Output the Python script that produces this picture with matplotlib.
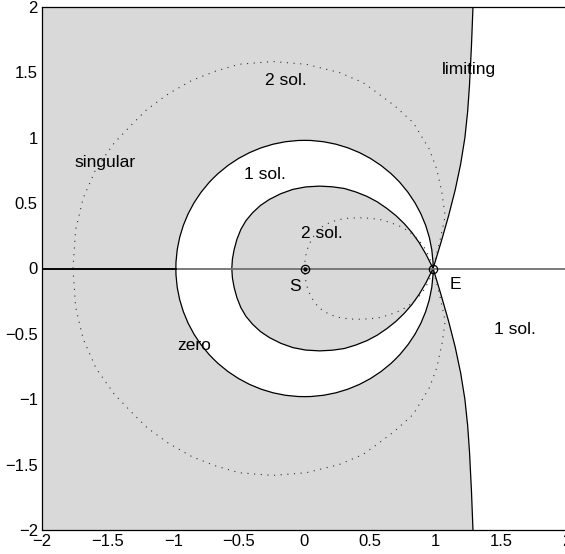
import numpy as np
import matplotlib.pyplot as plt
from matplotlib.patches import Circle

plt.rcParams['font.family'] = ['Liberation Sans', 'DejaVu Sans']

# Curvas (mitad superior, simetricas respecto al eje x)
# Curva interior (frontera 1 sol. / 2 sol.)
egg_x = [-0.554, -0.549, -0.536, -0.515, -0.485, -0.446, -0.396, -0.336, -0.268, -0.181, -0.089,
         0.010, 0.115, 0.211, 0.304, 0.392, 0.475, 0.554, 0.627, 0.696, 0.760, 0.818, 0.872, 0.926, 0.98]
egg_y = [0.0, 0.074, 0.145, 0.223, 0.299, 0.366, 0.426, 0.482, 0.528, 0.572, 0.605,
         0.624, 0.630, 0.625, 0.612, 0.585, 0.552, 0.510, 0.460, 0.405, 0.343, 0.276, 0.200, 0.108, 0.0]

# Curva punteada pequena (de S a E)
sd_x = [0.0, 0.004, 0.014, 0.033, 0.060, 0.095, 0.140, 0.200, 0.268, 0.340, 0.421,
        0.500, 0.574, 0.650, 0.727, 0.785, 0.835, 0.880, 0.920, 0.952, 0.98]
sd_y = [0.0, 0.060, 0.121, 0.180, 0.232, 0.282, 0.323, 0.355, 0.375, 0.386, 0.388,
        0.384, 0.375, 0.353, 0.323, 0.290, 0.252, 0.205, 0.150, 0.085, 0.0]

# Curva punteada grande
ld_x = [-1.764, -1.744, -1.686, -1.588, -1.450, -1.314, -1.200, -1.034, -0.856, -0.676, -0.498,
        -0.243, 0.013, 0.268, 0.446, 0.536, 0.686, 0.829, 0.952, 1.008, 1.047, 1.072, 1.034, 0.996, 0.98]
ld_y = [0.0, 0.294, 0.539, 0.764, 0.960, 1.103, 1.217, 1.338, 1.440, 1.510, 1.562,
        1.583, 1.562, 1.498, 1.422, 1.357, 1.245, 1.115, 0.911, 0.758, 0.579, 0.401, 0.222, 0.069, 0.0]

# Curva limite (de E hacia arriba)
lim_x = [0.98, 1.040, 1.097, 1.148, 1.190, 1.222, 1.243, 1.257, 1.272, 1.284]
lim_y = [0.0, 0.2, 0.4, 0.6, 0.8, 1.0, 1.2, 1.4, 1.7, 2.01]

r_circ = 0.98
S = (0.0, 0.0)
E = (0.98, 0.0)

labels = [('singular', -1.52, 0.81), ('2 sol.', -0.14, 1.44), ('limiting', 1.25, 1.52),
          ('1 sol.', -0.30, 0.72), ('2 sol.', 0.13, 0.27), ('S', -0.075, -0.14),
          ('E', 1.15, -0.12), ('zero', -0.84, -0.59), ('1 sol.', 1.60, -0.47)]

ticks = [-2, -1.5, -1, -0.5, 0, 0.5, 1, 1.5, 2]
tick_lab = ['\u22122', '\u22121.5', '\u22121', '\u22120.5', '0', '0.5', '1', '1.5', '2']


def closed(x, y):
    x = np.asarray(x)
    y = np.asarray(y)
    return np.concatenate([x, x[::-1]]), np.concatenate([y, -y[::-1]])


gris = '#d9d9d9'

fig = plt.figure(figsize=(5.65, 5.54), dpi=100)
ax = fig.add_axes([42/565, 24/554, 525/565, 523/554])

# region sombreada a la izquierda de la curva limite
lx = np.asarray(lim_x)
ly = np.asarray(lim_y)
px = np.concatenate([[-2.2], lx[::-1], lx[1:], [-2.2]])
py = np.concatenate([[-2.05], -ly[::-1], ly[1:], [2.05]])
ax.fill(px, py, color=gris, lw=0, zorder=1)

# anillo blanco
ax.add_patch(Circle(S, r_circ, fc='white', ec='black', lw=0.9, zorder=2))
ex, ey = closed(egg_x, egg_y)
ax.fill(ex, ey, fc=gris, ec='black', lw=0.9, zorder=3)

# curva limite
ax.plot(lx, ly, color='black', lw=0.9, zorder=4)
ax.plot(lx, -ly, color='black', lw=0.9, zorder=4)

# curvas punteadas
for cx, cy in [(sd_x, sd_y), (ld_x, ld_y)]:
    qx, qy = closed(cx, cy)
    ax.plot(qx, qy, color='#303030', lw=0.8, ls=(0, (1, 5)), zorder=4)

# eje horizontal
ax.plot([-2, 2], [0, 0], color='#707070', lw=1.3, zorder=4)
ax.plot([-2, -r_circ], [0, 0], color='black', lw=1.3, zorder=4)

# puntos S y E
ax.plot(*S, marker='o', ms=6, mfc='none', mec='black', mew=0.9, zorder=5)
ax.plot(*S, marker='o', ms=2, color='black', zorder=5)
ax.plot(*E, marker='o', ms=6, mfc='none', mec='black', mew=0.9, zorder=5)

for txt, x, y in labels:
    ax.text(x, y, txt, ha='center', va='center', fontsize=12.5, zorder=6)

ax.set_xlim(-2, 2)
ax.set_ylim(-2, 2)
ax.set_xticks(ticks)
ax.set_xticklabels(tick_lab)
ax.set_yticks(ticks)
ax.set_yticklabels(tick_lab)
ax.tick_params(length=0, labelsize=12, pad=3)
for sp in ax.spines.values():
    sp.set_linewidth(0.9)

fig.savefig('out.png', dpi=100)
